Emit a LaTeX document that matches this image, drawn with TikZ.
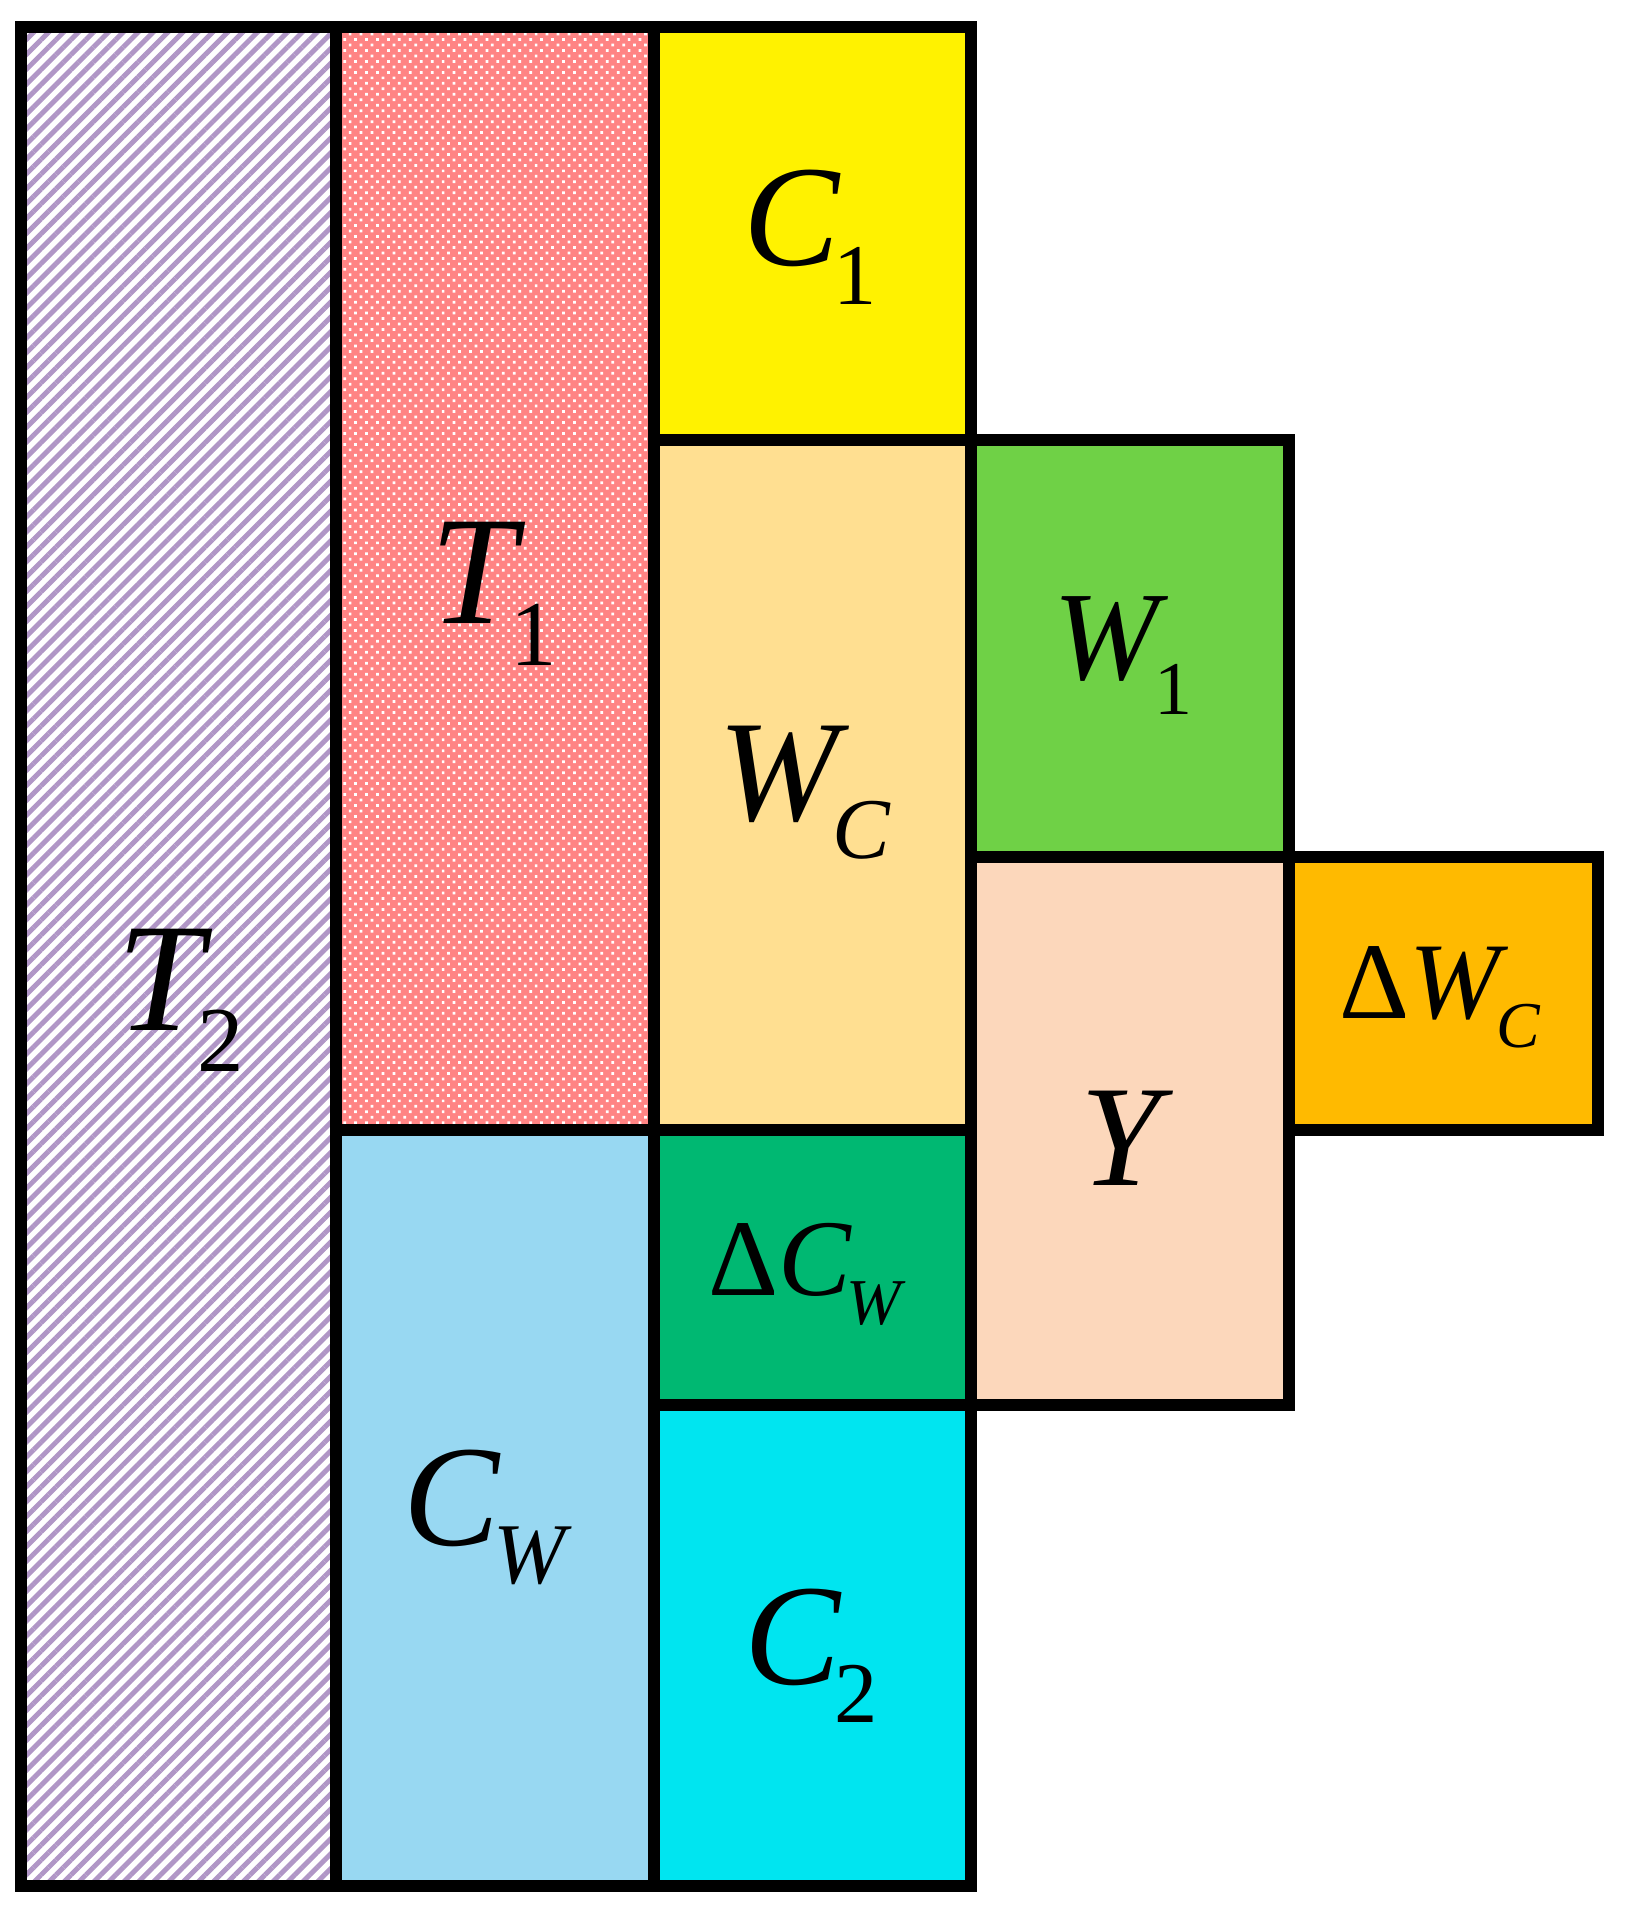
\documentclass[tikz,border=0pt]{standalone}
\usepackage{fontspec}
\usepackage{graphicx}
\setmainfont{Liberation Serif}
\usetikzlibrary{patterns.meta}

\definecolor{lilac}{RGB}{176,150,198}
\definecolor{rosy}{RGB}{255,132,132}
\definecolor{sand}{RGB}{255,223,145}
\definecolor{leaf}{RGB}{111,209,70}
\definecolor{peach}{RGB}{252,215,187}
\definecolor{amber}{RGB}{255,186,0}
\definecolor{jade}{RGB}{0,184,114}
\definecolor{aqua}{RGB}{0,229,240}
\definecolor{sky}{RGB}{152,216,242}

\newcommand{\ssub}[2]{{\itshape #1}\kern-.04em\raisebox{-.27em}{\scalebox{.6}{#2}}}

\begin{document}
\begin{tikzpicture}[x=0.01cm,y=-0.01cm,
  cell/.style={draw=black,line width=3.2pt},
  lbl/.style={inner sep=0pt,anchor=base},
  huge/.style={lbl,font=\fontsize{44}{50}\selectfont},
  large/.style={lbl,font=\fontsize{41}{46}\selectfont},
  medium/.style={lbl,font=\fontsize{36}{40}\selectfont},
  small/.style={lbl,font=\fontsize{31}{36}\selectfont}]
\useasboundingbox (0,0) rectangle (1626,1916);
\fill[white] (0,0) rectangle (1626,1916);

\path[pattern={Lines[angle=45,distance=3pt,line width=1.4pt]},pattern color=lilac] (21,27) rectangle (336,1886);
\fill[rosy] (336,27) rectangle (654,1130);
\path[pattern={Dots[angle=45,distance=2.2pt,radius=.55pt]},pattern color=white] (336,27) rectangle (654,1130);
\fill[sky] (336,1130) rectangle (654,1886);
\fill[yellow] (654,27) rectangle (971,440);
\fill[sand] (654,440) rectangle (971,1130);
\fill[jade] (654,1130) rectangle (971,1405);
\fill[aqua] (654,1405) rectangle (971,1886);
\fill[leaf] (971,440) rectangle (1289,857);
\fill[peach] (971,857) rectangle (1289,1405);
\fill[amber] (1289,857) rectangle (1598,1130);

\draw[cell] (21,27) rectangle (336,1886);
\draw[cell] (336,27) rectangle (654,1130);
\draw[cell] (336,1130) rectangle (654,1886);
\draw[cell] (654,27) rectangle (971,440);
\draw[cell] (654,440) rectangle (971,1130);
\draw[cell] (654,1130) rectangle (971,1405);
\draw[cell] (654,1405) rectangle (971,1886);
\draw[cell] (971,440) rectangle (1289,857);
\draw[cell] (971,857) rectangle (1289,1405);
\draw[cell] (1289,857) rectangle (1598,1130);

\node[huge] (t2) at (181,1030) {\ssub{T}{2}};
\node[huge] (t1) at (494,624) {\ssub{T}{1}};
\node[large] (c1) at (810,266) {\ssub{C}{1}};
\node[large] (wc) at (805,820) {\ssub{W}{\textit{C}}};
\node[medium] (w1) at (1123,680) {\ssub{W}{1}};
\node[small] (dwc) at (1440,1018) {Δ\ssub{W}{\textit{C}}};
\node[large] (y) at (1127,1185) {\textit{Y}};
\node[small] (dcw) at (807,1295) {Δ\ssub{C}{\textit{W}}};
\node[large] (cw) at (488,1545) {\ssub{C}{\textit{W}}};
\node[large] (c2) at (811,1684) {\ssub{C}{2}};
\end{tikzpicture}
\end{document}
